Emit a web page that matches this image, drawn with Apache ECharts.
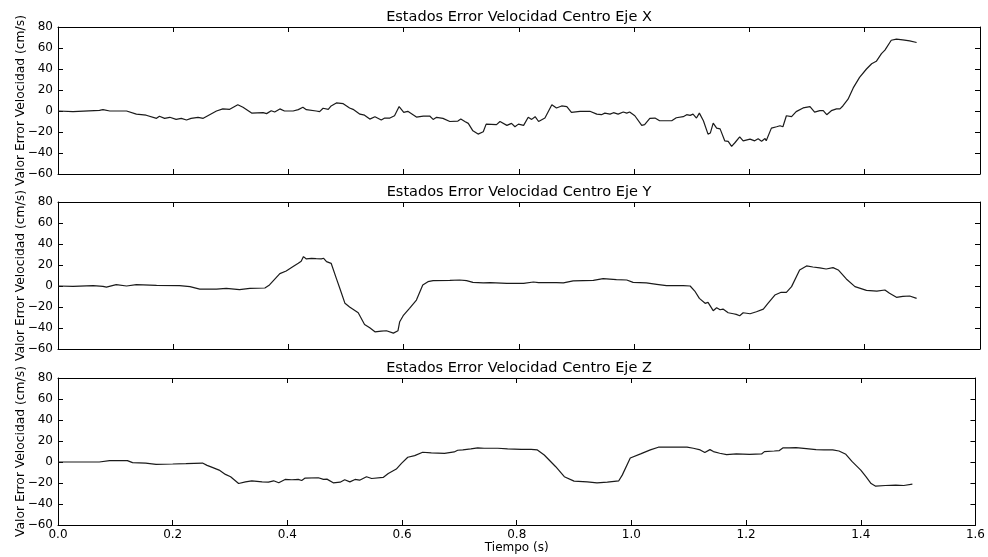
<!DOCTYPE html>
<html>
<head>
<meta charset="utf-8">
<script src="https://cdn.jsdelivr.net/npm/echarts@6/dist/echarts.min.js"></script>
<style>
  html, body { margin: 0; padding: 0; background: #ffffff; }
  #chart { width: 988px; height: 557px; }
</style>
</head>
<body>
<div id="chart"></div>
<script>
// Panel titles and axis names
const titles = [
  'Estados Error Velocidad Centro Eje X',
  'Estados Error Velocidad Centro Eje Y',
  'Estados Error Velocidad Centro Eje Z'
];
const yName = 'Valor Error Velocidad (cm/s)';
const xName = 'Tiempo (s)';

// Axis ranges / ticks
const xMin = 0, xMax = 1.6, xStep = 0.2;
const yMin = -60, yMax = 80, yStep = 20;

// Velocity error samples: [time (s), error (cm/s)]
const ejeX = [
  [0.000,0],[0.026,-0.6],[0.072,0.6],[0.078,1.3],[0.090,0],[0.119,0],[0.136,-3],[0.153,-4],
  [0.171,-7],[0.176,-5],[0.185,-7],[0.194,-6],[0.205,-8],[0.214,-7],[0.223,-8.6],[0.231,-7],
  [0.243,-6],[0.252,-7],[0.260,-4.5],[0.275,0],[0.286,2],[0.298,1.6],[0.312,6],[0.321,3.5],
  [0.336,-2],[0.356,-1.6],[0.362,-2.5],[0.370,0.3],[0.376,-1],[0.385,2],[0.393,0],[0.408,0],
  [0.417,1.3],[0.425,3.5],[0.431,1.3],[0.448,0],[0.454,-0.6],[0.460,2.6],[0.469,1.6],[0.474,4.8],
  [0.483,7.7],[0.495,7],[0.506,2.9],[0.512,1.6],[0.524,-3],[0.532,-4],[0.541,-7.7],[0.550,-5.4],
  [0.561,-8.6],[0.567,-6.7],[0.576,-6.7],[0.584,-4.5],[0.592,4.2],[0.600,-1.3],[0.607,-0.3],
  [0.622,-5.8],[0.634,-4.8],[0.645,-4.8],[0.651,-8],[0.657,-6],[0.668,-7],[0.680,-10],
  [0.694,-9.6],[0.699,-7.7],[0.706,-10],[0.712,-11.8],[0.720,-18.9],[0.729,-22],[0.738,-19.8],
  [0.743,-12.5],[0.761,-13],[0.767,-10],[0.779,-13.7],[0.787,-11.8],[0.793,-15],[0.799,-12.5],
  [0.808,-13.7],[0.816,-6],[0.822,-8],[0.828,-5.4],[0.834,-10],[0.845,-6.7],[0.857,6],[0.865,2.9],
  [0.874,4.8],[0.883,4.2],[0.891,-1.3],[0.906,-0.3],[0.923,-0.3],[0.935,-3],[0.943,-3.5],[0.949,-2],
  [0.958,-3],[0.964,-1.6],[0.972,-3],[0.981,-1],[0.987,-2],[0.992,-1],[1.001,-4.5],[1.013,-13.7],
  [1.018,-13],[1.027,-7],[1.036,-6.7],[1.044,-9.3],[1.065,-9.3],[1.073,-6.4],[1.085,-5.4],
  [1.091,-3.5],[1.097,-4.2],[1.102,-3],[1.108,-6.7],[1.113,-2],[1.120,-9.3],[1.128,-22],[1.132,-21],
  [1.137,-11.5],[1.143,-16.3],[1.149,-17],[1.157,-28.4],[1.163,-29],[1.169,-33.6],[1.175,-30],
  [1.183,-24.6],[1.189,-28.4],[1.201,-26.8],[1.209,-28.4],[1.215,-26.5],[1.221,-28.8],[1.227,-26.2],
  [1.229,-28.4],[1.238,-16.3],[1.247,-15],[1.253,-14],[1.258,-15],[1.264,-4.5],[1.273,-5.4],
  [1.281,-0.6],[1.293,2.9],[1.305,4.2],[1.313,-1],[1.322,0.3],[1.328,0.3],[1.334,-3.5],[1.342,0.3],
  [1.351,2],[1.357,2],[1.362,4.8],[1.371,11.2],[1.380,22],[1.391,32],[1.403,40],[1.412,45],
  [1.420,47.3],[1.429,54.6],[1.435,58],[1.446,67.4],[1.455,68.4],[1.466,67.8],[1.478,66.8],[1.490,65.2]
];

const ejeY = [
  [0.000,0],[0.026,-0.3],[0.061,0.3],[0.078,-0.3],[0.084,-1],[0.101,1.3],[0.119,0],[0.136,1.3],
  [0.171,0.6],[0.211,0.3],[0.229,-0.6],[0.246,-2.9],[0.275,-2.9],[0.292,-2.2],[0.315,-3.5],
  [0.333,-2.2],[0.359,-1.9],[0.367,1],[0.385,11.8],[0.396,14.3],[0.408,18.5],[0.417,21.6],
  [0.422,23.5],[0.426,28],[0.431,25.8],[0.440,26.4],[0.448,26.1],[0.457,25.8],[0.461,26.4],
  [0.466,23.2],[0.474,21.6],[0.483,7.3],[0.489,-2.2],[0.498,-16.5],[0.506,-20],[0.521,-25.5],
  [0.532,-36.6],[0.541,-39.8],[0.550,-43.6],[0.561,-43],[0.570,-42.6],[0.582,-44.9],[0.590,-42.6],
  [0.593,-34],[0.599,-28.3],[0.610,-21.3],[0.622,-13.4],[0.633,1],[0.642,4.1],[0.651,5.1],
  [0.680,5.4],[0.697,5.7],[0.709,5.1],[0.720,3.5],[0.738,2.9],[0.750,3.2],[0.779,2.5],[0.808,2.5],
  [0.825,3.8],[0.834,3.2],[0.865,3.2],[0.877,2.9],[0.894,4.8],[0.929,5.4],[0.946,7],[0.969,6],
  [0.987,5.7],[0.998,3.5],[1.021,2.9],[1.039,1.6],[1.056,0.3],[1.085,0.3],[1.097,0],[1.105,-4.8],
  [1.113,-11.8],[1.123,-16.5],[1.128,-15.6],[1.137,-23.5],[1.143,-20.7],[1.149,-22.6],[1.154,-22],
  [1.163,-25.5],[1.172,-26.4],[1.177,-27],[1.183,-28.3],[1.189,-25.5],[1.201,-26.4],[1.212,-24.5],
  [1.224,-22],[1.232,-16.5],[1.244,-8.6],[1.255,-6],[1.264,-6],[1.273,-0.6],[1.287,15.3],
  [1.299,19.1],[1.310,18.1],[1.322,17.2],[1.333,16.2],[1.345,17.5],[1.354,15.3],[1.368,6.7],
  [1.383,-0.6],[1.403,-4.1],[1.421,-4.8],[1.435,-3.8],[1.443,-7],[1.455,-10.8],[1.466,-9.9],
  [1.478,-9.5],[1.490,-11.8]
];

const ejeZ = [
  [0.000,0],[0.072,0],[0.090,1.3],[0.121,1.3],[0.130,-0.6],[0.153,-1],[0.171,-2.2],[0.200,-1.9],
  [0.223,-1.6],[0.252,-1],[0.260,-3.2],[0.269,-5.1],[0.281,-7.7],[0.292,-11.8],[0.301,-14],
  [0.315,-20.5],[0.327,-18.9],[0.338,-17.9],[0.356,-18.9],[0.367,-19.2],[0.376,-17.9],[0.385,-19.8],
  [0.396,-16.6],[0.408,-16.9],[0.419,-16.6],[0.425,-17.6],[0.431,-15.3],[0.454,-15],[0.463,-16.6],
  [0.469,-16.3],[0.480,-19.8],[0.492,-19.2],[0.500,-16.9],[0.509,-18.9],[0.518,-16.6],[0.526,-17.3],
  [0.538,-14],[0.547,-15.7],[0.567,-14.7],[0.576,-10.9],[0.590,-6.7],[0.599,-1.3],[0.610,4.5],
  [0.622,6.1],[0.636,9.3],[0.651,8.6],[0.674,8.3],[0.691,9.6],[0.697,11.2],[0.706,11.5],
  [0.720,12.5],[0.732,13.4],[0.743,13.1],[0.750,13.1],[0.767,13.1],[0.784,12.5],[0.808,12.1],
  [0.825,12.1],[0.836,11.5],[0.848,6.7],[0.868,-4.5],[0.883,-14],[0.900,-18.2],[0.923,-18.9],
  [0.940,-19.8],[0.958,-19.2],[0.978,-17.9],[0.984,-12.5],[0.998,3.8],[1.016,7.7],[1.033,11.5],
  [1.047,14.1],[1.062,14.1],[1.079,14.1],[1.097,14.1],[1.108,13.1],[1.120,11.5],[1.128,9],
  [1.137,11.8],[1.143,9.9],[1.154,8.3],[1.166,7],[1.183,7.7],[1.206,7.3],[1.227,7.7],[1.232,9.9],
  [1.249,10.5],[1.258,10.9],[1.264,13.4],[1.275,13.4],[1.287,13.7],[1.305,12.8],[1.322,11.8],
  [1.336,11.5],[1.351,11.5],[1.362,10.5],[1.374,7.3],[1.385,0.3],[1.400,-7.7],[1.409,-14],
  [1.418,-20.5],[1.426,-23],[1.443,-22.4],[1.461,-22],[1.475,-22.4],[1.490,-21.1]
];

const panels = [ejeX, ejeY, ejeZ];

// Panel boxes (pixels)
const plotLeft = 58, plotWidth = 922;
const plotTops = [27, 202, 378];
const plotHeight = 147;

const font = 'DejaVu Sans';
const minus = v => String(v).replace('-', '\u2212');

const grid = [], xAxis = [], yAxis = [], series = [], graphic = [];

panels.forEach((data, i) => {
  const last = i === panels.length - 1;
  grid.push({ left: plotLeft, top: plotTops[i], width: plotWidth, height: plotHeight });

  const frame = { show: true, onZero: false, lineStyle: { color: '#000', width: 1 } };
  const tick = { show: true, inside: true, length: 5, lineStyle: { color: '#000', width: 1 } };

  // bottom and top x axes (ticks on both edges)
  xAxis.push({
    type: 'value', gridIndex: i, min: xMin, max: xMax, interval: xStep, position: 'bottom',
    axisLine: frame, axisTick: tick, splitLine: { show: false },
    axisLabel: {
      show: last, margin: 4, color: '#000', fontFamily: font, fontSize: 12,
      formatter: v => v.toFixed(1)
    },
    name: last ? xName : '', nameLocation: 'middle', nameGap: 17, nameMoveOverlap: false,
    nameTextStyle: { color: '#000', fontFamily: font, fontSize: 12 }
  });
  xAxis.push({
    type: 'value', gridIndex: i, min: xMin, max: xMax, interval: xStep, position: 'top',
    axisLine: frame, axisTick: tick, splitLine: { show: false }, axisLabel: { show: false }
  });

  // left and right y axes
  yAxis.push({
    type: 'value', gridIndex: i, min: yMin, max: yMax, interval: yStep, position: 'left',
    axisLine: frame, axisTick: tick, splitLine: { show: false },
    axisLabel: { margin: 5, color: '#000', fontFamily: font, fontSize: 12, formatter: minus },
    name: yName, nameLocation: 'middle', nameGap: 31, nameMoveOverlap: false,
    nameTextStyle: { color: '#000', fontFamily: font, fontSize: 12.3 }
  });
  yAxis.push({
    type: 'value', gridIndex: i, min: yMin, max: yMax, interval: yStep, position: 'right',
    axisLine: frame, axisTick: tick, splitLine: { show: false }, axisLabel: { show: false }
  });

  series.push({
    type: 'line', xAxisIndex: 2 * i, yAxisIndex: 2 * i, data: data,
    showSymbol: false, symbol: 'none', silent: true, animation: false,
    lineStyle: { color: '#1a1a1a', width: 1.2 }
  });

  graphic.push({
    type: 'text', x: plotLeft + plotWidth / 2, y: plotTops[i] - 10,
    style: {
      text: titles[i], align: 'center', verticalAlign: 'middle',
      fill: '#000', font: '14.5px "DejaVu Sans"'
    }
  });
});

const chart = echarts.init(document.getElementById('chart'), null, { renderer: 'canvas' });
chart.setOption({
  backgroundColor: '#ffffff',
  animation: false,
  grid, xAxis, yAxis, series, graphic
});
</script>
</body>
</html>
